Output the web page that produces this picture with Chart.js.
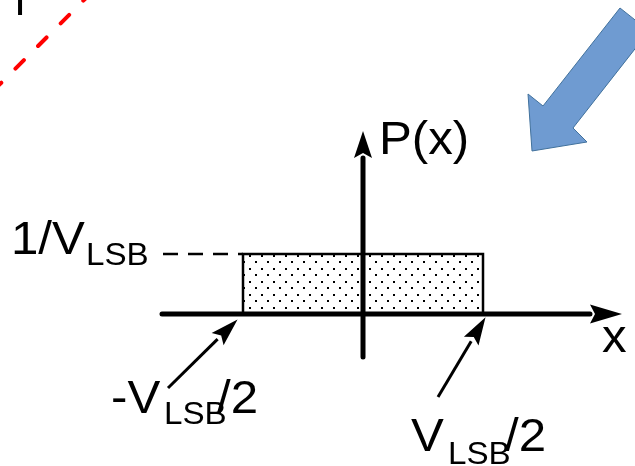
<!DOCTYPE html>
<html>
<head>
<meta charset="utf-8">
<script src="https://cdn.jsdelivr.net/npm/chart.js@4/dist/chart.umd.min.js"></script>
<style>
  html, body { margin: 0; padding: 0; background: #fff; }
  canvas { display: block; }
</style>
</head>
<body>
<canvas id="diagram" width="635" height="466"></canvas>
<script>
// units: x in V_LSB, y in 1/V_LSB
var rectX = [-0.5, -0.5, 0.5, 0.5];
var rectY = [0, 1, 1, 0];
var xAxisX = [-0.8375, 0.9458];
var xAxisY = [0, 0];
var yAxisX = [0, 0];
var yAxisY = [-0.717, 2.6];
var levelX = [-0.8333, -0.5];
var levelY = [1, 1];
var calloutLeftX = [-0.8125, -0.6058];
var calloutLeftY = [-1.2333, -0.418];
var calloutRightX = [0.3125, 0.4508];
var calloutRightY = [-1.3833, -0.4533];
var blueArrowX = [1.0708, 1.1917, 0.875, 0.9333, 0.7042, 0.6875, 0.75, 1.0708];
var blueArrowY = [5.1, 4.7167, 3.1, 2.8667, 2.7167, 3.6667, 3.4667, 5.1];
var redLineX = [-1.5425, -1.1325];
var redLineY = [3.713, 5.353];
var stubX = [-1.429, -1.429];
var stubY = [4.983, 5.3];

var labelText = ['P(x)', '1/V', 'LSB', 'x', '-V', 'LSB', '/2', 'V', 'LSB', '/2'];
var labelX = [0.0667, -1.4667, -1.1542, 0.9958, -1.05, -0.8292, -0.6083, 0.2, 0.3542, 0.5917];
var labelY = [2.667, 1.0, 0.8167, -0.6333, -1.65, -1.8333, -1.65, -2.2833, -2.5, -2.2833];
var labelSub = [false, false, true, false, false, true, false, false, true, false];

(function render(win, doc) {
  var FONT = '"Liberation Sans", Arial, Helvetica, sans-serif';
  var STRETCH = 1.07;

  function points(xs, ys) {
    return xs.map(function (x, i) { return { x: x, y: ys[i] }; });
  }

  function dotPattern() {
    var tile = doc.createElement('canvas');
    tile.width = 12;
    tile.height = 13;
    var t = tile.getContext('2d');
    t.fillStyle = '#fff';
    t.fillRect(0, 0, 12, 13);
    t.fillStyle = '#000';
    t.fillRect(3, 1, 2, 2);
    t.fillRect(9, 8, 2, 2);
    return doc.getElementById('diagram').getContext('2d').createPattern(tile, 'repeat');
  }

  function line(data, opts) {
    return Object.assign({
      data: data,
      showLine: true,
      pointRadius: 0,
      borderColor: '#000',
      borderWidth: 3,
      fill: false,
      tension: 0
    }, opts || {});
  }

  // arrow head drawn at the last point, pointing along the last segment
  var arrowHeads = {
    id: 'arrowHeads',
    afterDatasetsDraw: function (chart) {
      var ctx = chart.ctx;
      chart.data.datasets.forEach(function (ds, i) {
        if (!ds.arrowHead) return;
        var pts = chart.getDatasetMeta(i).data;
        var a = pts[pts.length - 2], b = pts[pts.length - 1];
        var dx = b.x - a.x, dy = b.y - a.y;
        var len = Math.sqrt(dx * dx + dy * dy);
        var ux = dx / len, uy = dy / len;
        var h = ds.arrowHead;
        ctx.save();
        ctx.fillStyle = ds.borderColor;
        ctx.beginPath();
        ctx.moveTo(b.x + ux * h.length, b.y + uy * h.length);
        ctx.lineTo(b.x - uy * h.half, b.y + ux * h.half);
        ctx.lineTo(b.x + ux * h.notch, b.y + uy * h.notch);
        ctx.lineTo(b.x + uy * h.half, b.y - ux * h.half);
        ctx.closePath();
        ctx.fill();
        ctx.restore();
      });
    }
  };

  var labels = {
    id: 'labels',
    afterDraw: function (chart) {
      var ctx = chart.ctx;
      var sx = chart.scales.x, sy = chart.scales.y;
      ctx.fillStyle = '#000';
      labelText.forEach(function (t, i) {
        ctx.save();
        ctx.textAlign = 'left';
        ctx.textBaseline = 'alphabetic';
        ctx.font = (labelSub[i] ? '31px ' : '46px ') + FONT;
        ctx.translate(sx.getPixelForValue(labelX[i]), sy.getPixelForValue(labelY[i]));
        ctx.scale(STRETCH, 1);
        ctx.fillText(t, 0, 0);
        ctx.restore();
      });
    }
  };

  var axisHead = { length: 32, half: 9.5, notch: 5 };
  var calloutHead = { length: 28, half: 8.5, notch: 5 };

  new Chart(doc.getElementById('diagram'), {
    type: 'scatter',
    data: {
      datasets: [
        line(points(xAxisX, xAxisY), { borderWidth: 5, borderCapStyle: 'round', arrowHead: axisHead }),
        line(points(yAxisX, yAxisY), { borderWidth: 5, borderCapStyle: 'round', arrowHead: { length: 27, half: 9, notch: 5 } }),
        line(points(calloutLeftX, calloutLeftY), { borderWidth: 3, arrowHead: calloutHead }),
        line(points(calloutRightX, calloutRightY), { borderWidth: 3, arrowHead: calloutHead }),
        line(points(levelX, levelY), { borderWidth: 2.5, borderDash: [15, 10] }),
        line(points(rectX, rectY), { borderWidth: 2.5, fill: 'origin', backgroundColor: dotPattern() }),
        line(points(blueArrowX, blueArrowY), { borderWidth: 1, borderColor: '#41719c', backgroundColor: '#6f9bd1', fill: 'shape' }),
        line(points(redLineX, redLineY), { borderWidth: 4, borderColor: '#ff0000', borderDash: [12, 20], borderCapStyle: 'round' }),
        line(points(stubX, stubY), { borderWidth: 4 })
      ]
    },
    options: {
      responsive: false,
      devicePixelRatio: 1,
      animation: false,
      layout: { padding: 0 },
      plugins: { legend: { display: false }, tooltip: { enabled: false } },
      scales: {
        x: { type: 'linear', display: false, min: -1.5125, max: 1.1333 },
        y: { type: 'linear', display: false, min: -2.5333, max: 5.2333 }
      }
    },
    plugins: [arrowHeads, labels]
  });
})(window, document);
</script>
</body>
</html>
